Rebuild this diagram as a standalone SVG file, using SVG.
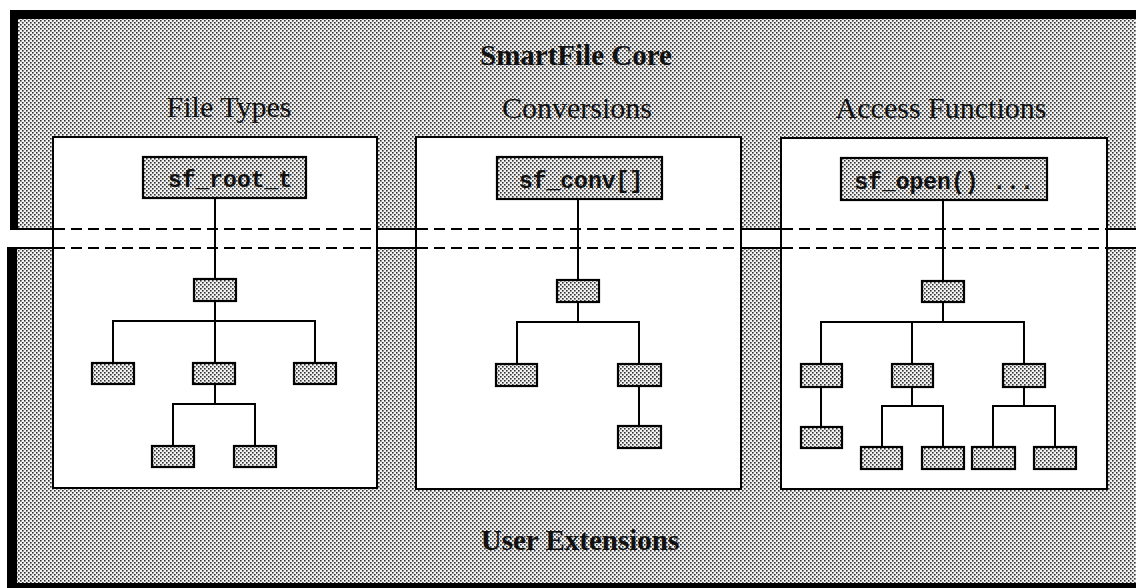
<svg xmlns="http://www.w3.org/2000/svg" width="1136" height="588" viewBox="0 0 1136 588">
<style>
.head{font-family:"Liberation Serif","Times New Roman",serif;font-size:30px;fill:#111;text-anchor:middle}
.bold{font-weight:bold;font-size:29px}
.code{font-family:"Liberation Mono","Courier New",monospace;font-weight:bold;font-size:23px;fill:#111;text-anchor:middle}
.box{fill:#fff;stroke:#000;stroke-width:2}
.node{fill:url(#dots);stroke:#000;stroke-width:2.2}
.conn{fill:none;stroke:#000;stroke-width:2}
.dash{fill:none;stroke:#000;stroke-width:2.2;stroke-dasharray:11 6}
.edge{stroke:#000;stroke-width:2}
</style>
<defs>
<pattern id="dots" width="4" height="4" patternUnits="userSpaceOnUse">
<rect width="4" height="4" fill="#f2f2f2"/>
<rect x="0" y="0" width="1.6" height="1.6" fill="#333"/>
<rect x="2" y="2" width="1.6" height="1.6" fill="#333"/>
</pattern>
</defs>
<rect width="1136" height="588" fill="#fff"/>
<g id="core-region">
<rect x="10" y="10" width="1130" height="219" fill="url(#dots)"/>
<rect x="10" y="10" width="1126" height="9" fill="#000"/>
<rect x="10" y="10" width="8" height="219" fill="#000"/>
<line class="edge" x1="10" y1="229" x2="1136" y2="229"/>
<text class="head bold" x="576" y="65">SmartFile Core</text>
</g>
<g id="user-region">
<rect x="7" y="248" width="1129" height="340" fill="url(#dots)"/>
<rect x="7" y="248" width="10" height="340" fill="#000"/>
<rect x="7" y="583" width="1129" height="5" fill="#000"/>
<line class="edge" x1="7" y1="248" x2="1136" y2="248"/>
<text class="head bold" x="580" y="550">User Extensions</text>
</g>
<g id="file-types">
<text class="head" x="229" y="117">File Types</text>
<rect class="box" x="53" y="137" width="324" height="351"/>
<line class="dash" x1="54" y1="229" x2="376" y2="229"/>
<line class="dash" x1="54" y1="248" x2="376" y2="248"/>
</g>
<g id="conversions">
<text class="head" x="577" y="118">Conversions</text>
<rect class="box" x="416" y="137" width="325" height="352"/>
<line class="dash" x1="417" y1="229" x2="740" y2="229"/>
<line class="dash" x1="417" y1="248" x2="740" y2="248"/>
</g>
<g id="access-functions">
<text class="head" x="941" y="118">Access Functions</text>
<rect class="box" x="781" y="138" width="326" height="351"/>
<line class="dash" x1="782" y1="229" x2="1106" y2="229"/>
<line class="dash" x1="782" y1="248" x2="1106" y2="248"/>
</g>
<g id="connectors">
<path class="conn" d="M215,198V279M215,301V363M113,363V321H315V363M215,384V404M173,446V404H255V446"/>
<path class="conn" d="M578,199V280M578,302V322M517,364V322H639V364M639,386V426"/>
<path class="conn" d="M943,200V281M943,302V322M821,364V322H1024V364M912,322V364M821,387V427M912,387V406M882,447V406H943V447M1024,387V406M993,447V406H1055V447"/>
</g>
<g id="sf_root_t"><rect class="node" x="143" y="157" width="163" height="41"/><text class="code" x="230" y="187">sf_root_t</text></g>
<g id="sf_conv"><rect class="node" x="497" y="157" width="165" height="42"/><text class="code" x="581" y="188">sf_conv[]</text></g>
<g id="sf_open"><rect class="node" x="841" y="158" width="206" height="42"/><text class="code" x="944" y="189">sf_open() ...</text></g>
<g id="ft-n1"><rect class="node" x="194" y="279" width="42" height="22"/></g>
<g id="ft-n2"><rect class="node" x="92" y="363" width="42" height="21"/></g>
<g id="ft-n3"><rect class="node" x="193" y="363" width="42" height="21"/></g>
<g id="ft-n4"><rect class="node" x="294" y="363" width="42" height="21"/></g>
<g id="ft-n5"><rect class="node" x="152" y="446" width="42" height="21"/></g>
<g id="ft-n6"><rect class="node" x="234" y="446" width="42" height="21"/></g>
<g id="cv-n1"><rect class="node" x="557" y="280" width="42" height="22"/></g>
<g id="cv-n2"><rect class="node" x="496" y="364" width="41" height="22"/></g>
<g id="cv-n3"><rect class="node" x="618" y="364" width="43" height="22"/></g>
<g id="cv-n4"><rect class="node" x="618" y="426" width="43" height="22"/></g>
<g id="af-n1"><rect class="node" x="922" y="281" width="42" height="21"/></g>
<g id="af-n2"><rect class="node" x="801" y="364" width="41" height="23"/></g>
<g id="af-n3"><rect class="node" x="892" y="364" width="41" height="23"/></g>
<g id="af-n4"><rect class="node" x="1003" y="364" width="42" height="23"/></g>
<g id="af-n5"><rect class="node" x="801" y="427" width="41" height="21"/></g>
<g id="af-n6"><rect class="node" x="861" y="447" width="41" height="22"/></g>
<g id="af-n7"><rect class="node" x="922" y="447" width="42" height="22"/></g>
<g id="af-n8"><rect class="node" x="972" y="447" width="43" height="22"/></g>
<g id="af-n9"><rect class="node" x="1034" y="447" width="42" height="22"/></g>
</svg>
